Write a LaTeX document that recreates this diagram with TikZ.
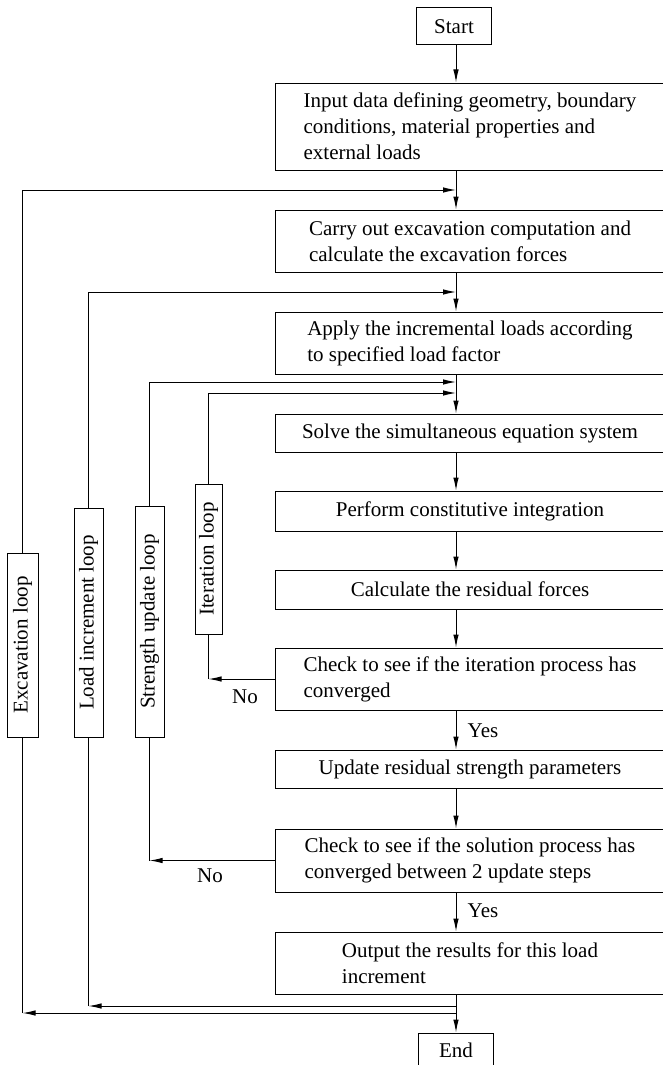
\documentclass[tikz,border=0pt]{standalone}
\usepackage{fontspec}
\setmainfont{Liberation Serif}
\usetikzlibrary{arrows.meta,calc}
\begin{document}
\begin{tikzpicture}[x=1pt,y=-1pt,
  every node/.style={font=\fontsize{21}{26}\selectfont},
  mainbox/.style={draw, line width=1pt, minimum width=390pt, inner sep=0pt, align=left, text width=, anchor=center},
  termbox/.style={draw, line width=1pt, minimum width=75pt, minimum height=37pt, inner sep=0pt},
  loopbox/.style={draw, line width=1pt, rotate=90, inner sep=0pt, minimum height=29pt},
  lbl/.style={inner sep=0pt},
  conn/.style={line width=1pt},
  arr/.style={conn, -{Latex[length=13pt,width=5.5pt]}}]
\useasboundingbox (0,0) rectangle (662,1065);
\coordinate (m) at (456,0);
% terminal boxes
\node[termbox] (start) at (454,26.5) {Start};
\node[termbox, minimum height=34pt] (end) at (456,1050) {End};
% main boxes
\node[mainbox, minimum height=87pt] (input) at (470,126.5) {Input data defining geometry, boundary\\conditions, material properties and\\external loads};
\node[mainbox, minimum height=62pt] (carry) at (470,241) {Carry out excavation computation and\\calculate the excavation forces};
\node[mainbox, minimum height=62pt] (apply) at (470,343) {Apply the incremental loads according\\to specified load factor};
\node[mainbox, minimum height=38pt] (solve) at (470,433) {Solve the simultaneous equation system};
\node[mainbox, minimum height=40pt] (perform) at (470,511) {Perform constitutive integration};
\node[mainbox, minimum height=39pt] (calc) at (470,589.5) {Calculate the residual forces};
\node[mainbox, minimum height=62pt] (chk1) at (470,679) {Check to see if the iteration process has\\converged};
\node[mainbox, minimum height=38pt] (update) at (470,769) {Update residual strength parameters};
\node[mainbox, minimum height=63pt] (chk2) at (470,860.5) {Check to see if the solution process has\\converged between 2 update steps};
\node[mainbox, minimum height=62pt] (output) at (470,963) {Output the results for this load\\increment};
% loop boxes
\node[loopbox, minimum width=184pt, minimum height=31pt] (exc) at (22.5,645) {Excavation loop};
\node[loopbox, minimum width=229pt] (ldl) at (88.5,622.5) {Load increment loop};
\node[loopbox, minimum width=231pt] (str) at (149.5,621.5) {Strength update loop};
\node[loopbox, minimum width=150pt, minimum height=27pt] (itl) at (208.5,559) {Iteration loop};
% main column coordinates
\coordinate (excIn) at (456,190);
\coordinate (ldIn) at (456,292);
\coordinate (strIn) at (456,382);
\coordinate (itIn) at (456,393);
\coordinate (ldOut) at (456,1006);
\coordinate (excOut) at (456,1013);
% main flow
\draw[arr] (start.south -| m) -- (input.north -| m);
\draw[arr] (input.south -| m) -- (carry.north -| m);
\draw[arr] (carry.south -| m) -- (apply.north -| m);
\draw[arr] (apply.south -| m) -- (solve.north -| m);
\draw[arr] (solve.south -| m) -- (perform.north -| m);
\draw[arr] (perform.south -| m) -- (calc.north -| m);
\draw[arr] (calc.south -| m) -- (chk1.north -| m);
\draw[arr] (chk1.south -| m) -- (update.north -| m);
\draw[arr] (update.south -| m) -- (chk2.north -| m);
\draw[arr] (chk2.south -| m) -- (output.north -| m);
\draw[arr] (output.south -| m) -- (end.north -| m);
% loops: entry at top
\draw[arr] (exc.east) -- (exc.east |- excIn) -- (excIn);
\draw[arr] (ldl.east) -- (ldl.east |- ldIn) -- (ldIn);
\draw[arr] (str.east) -- (str.east |- strIn) -- (strIn);
\draw[arr] (itl.east) -- (itl.east |- itIn) -- (itIn);
% loops: exits at bottom
\coordinate (itC) at (itl.west |- chk1.west);
\coordinate (strC) at (str.west |- chk2.west);
\coordinate (ldC) at (ldl.west |- ldOut);
\coordinate (excC) at (exc.west |- excOut);
\draw[arr] (chk1.west) -- (itC);
\draw[conn] (itC) -- (itl.west);
\draw[arr] (chk2.west) -- (strC);
\draw[conn] (strC) -- (str.west);
\draw[arr] (ldOut) -- (ldC);
\draw[conn] (ldC) -- (ldl.west);
\draw[arr] (excOut) -- (excC);
\draw[conn] (excC) -- (exc.west);
% labels
\node[lbl] (no1) at (245,697) {No};
\node[lbl] (no2) at (210,876) {No};
\node[lbl] (yes1) at (483,731) {Yes};
\node[lbl] (yes2) at (483,911) {Yes};
\end{tikzpicture}
\end{document}
